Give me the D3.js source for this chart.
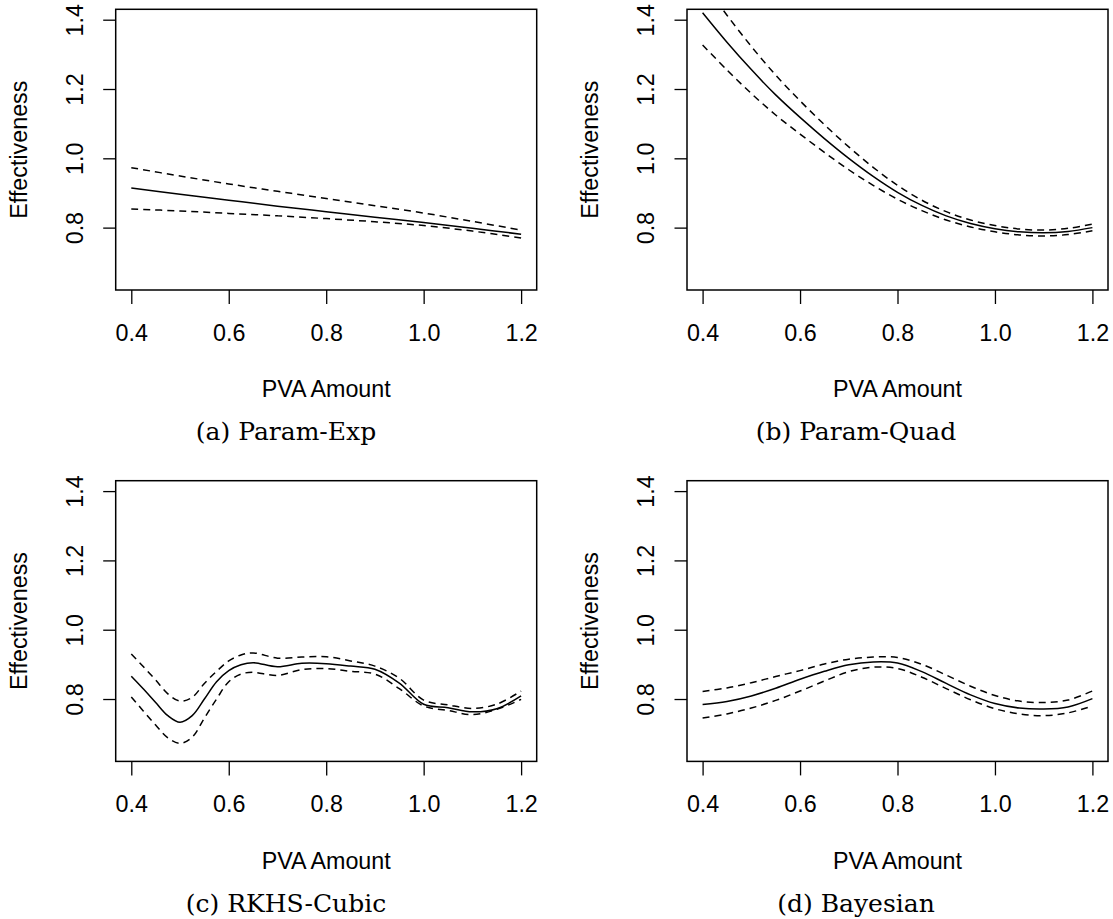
<!DOCTYPE html>
<html>
<head>
<meta charset="utf-8">
<script src="https://cdn.jsdelivr.net/npm/d3@7"></script>
<style>
  body { margin: 0; background: #fff; }
  text { font-family: "Liberation Sans", Arial, sans-serif; fill: #000; }
  .caption { font-family: "DejaVu Serif", "Liberation Serif", serif; }
</style>
</head>
<body>
<script>
// x grids used by the curves
var xCoarse = [0.4, 0.5, 0.6, 0.7, 0.8, 0.9, 1.0, 1.1, 1.2];
var xFine = [0.40, 0.45, 0.50, 0.55, 0.60, 0.65, 0.70, 0.75, 0.80,
             0.85, 0.90, 0.95, 1.00, 1.05, 1.10, 1.15, 1.20];
// denser near the dip of the RKHS fit
var xRkhs = [0.400, 0.425, 0.450, 0.475, 0.500, 0.525, 0.550, 0.575, 0.600, 0.625,
             0.65, 0.70, 0.75, 0.80, 0.85, 0.90, 0.95, 1.00, 1.05, 1.10, 1.15, 1.20];

// (a) Param-Exp
var expFit   = [0.914, 0.896, 0.879, 0.862, 0.846, 0.830, 0.815, 0.798, 0.781];
var expUpper = [0.973, 0.949, 0.926, 0.905, 0.884, 0.863, 0.842, 0.818, 0.793];
var expLower = [0.854, 0.848, 0.841, 0.834, 0.826, 0.817, 0.806, 0.790, 0.770];

// (b) Param-Quad
var quadFit   = [1.420, 1.335, 1.256, 1.183, 1.118, 1.057, 1.000, 0.948, 0.902,
                 0.864, 0.834, 0.812, 0.797, 0.788, 0.785, 0.789, 0.800];
var quadUpper = [1.510, 1.413, 1.323, 1.240, 1.166, 1.097, 1.033, 0.974, 0.922,
                 0.879, 0.846, 0.822, 0.806, 0.796, 0.793, 0.798, 0.810];
var quadLower = [1.327, 1.255, 1.187, 1.125, 1.070, 1.017, 0.967, 0.922, 0.882,
                 0.849, 0.822, 0.802, 0.788, 0.779, 0.776, 0.780, 0.791];

// (c) RKHS-Cubic
var rkhsFit   = [0.866, 0.829, 0.790, 0.752, 0.733, 0.752, 0.800, 0.850, 0.882, 0.899,
                 0.905, 0.893, 0.903, 0.902, 0.895, 0.886, 0.846, 0.785, 0.775, 0.763, 0.772, 0.809];
var rkhsUpper = [0.930, 0.893, 0.855, 0.815, 0.794, 0.805, 0.845, 0.880, 0.910, 0.927,
                 0.933, 0.918, 0.921, 0.922, 0.910, 0.895, 0.860, 0.797, 0.783, 0.773, 0.785, 0.823];
var rkhsLower = [0.806, 0.765, 0.725, 0.688, 0.672, 0.690, 0.745, 0.800, 0.850, 0.872,
                 0.877, 0.868, 0.885, 0.888, 0.880, 0.872, 0.830, 0.780, 0.767, 0.755, 0.770, 0.799];

// (d) Bayesian
var bayesFit   = [0.784, 0.793, 0.809, 0.831, 0.857, 0.880, 0.899, 0.907, 0.904,
                  0.879, 0.845, 0.812, 0.787, 0.774, 0.771, 0.777, 0.801];
var bayesUpper = [0.822, 0.832, 0.847, 0.865, 0.882, 0.901, 0.915, 0.921, 0.920,
                  0.900, 0.869, 0.837, 0.810, 0.794, 0.790, 0.797, 0.823];
var bayesLower = [0.745, 0.757, 0.774, 0.796, 0.823, 0.852, 0.879, 0.892, 0.888,
                  0.863, 0.830, 0.798, 0.772, 0.757, 0.752, 0.760, 0.780];

var xTicks = [0.4, 0.6, 0.8, 1.0, 1.2];
var yTicks = [0.8, 1.0, 1.2, 1.4];
var xLim = [0.4, 1.2];
var yLim = [0.65, 1.4];
var captions = ["(a) Param-Exp", "(b) Param-Quad", "(c) RKHS-Cubic", "(d) Bayesian"];
var xLabel = "PVA Amount";
var yLabel = "Effectiveness";

//page size and panel geometry
var W = 1113, H = 919;
var boxW = 421, boxH = 280.7;
var panelLeft = [115.7, 687];
var panelTop = [9.3, 480.7];
var captionX = [286, 856];
var captionY = [440, 912];
var fontSize = "23.3px";

var panels = [
  { x: xCoarse, fit: expFit, up: expUpper, lo: expLower },
  { x: xFine, fit: quadFit, up: quadUpper, lo: quadLower },
  { x: xRkhs, fit: rkhsFit, up: rkhsUpper, lo: rkhsLower },
  { x: xFine, fit: bayesFit, up: bayesUpper, lo: bayesLower }
];

var svg = d3.select("body")
            .append("svg")
            .attr("width", W)
            .attr("height", H);

//R style 4% axis expansion
function expand(lim) {
  var d = (lim[1] - lim[0]) * 0.04;
  return [lim[0] - d, lim[1] + d];
}

var xScale = d3.scaleLinear().domain(expand(xLim)).range([0, boxW]);
var yScale = d3.scaleLinear().domain(expand(yLim)).range([boxH, 0]);

panels.forEach(function(p, i) {
  var col = i % 2, row = Math.floor(i / 2);
  var g = svg.append("g")
      .attr("transform", "translate(" + panelLeft[col] + "," + panelTop[row] + ")");

  g.append("clipPath")
      .attr("id", "clip" + i)
    .append("rect")
      .attr("width", boxW)
      .attr("height", boxH);

  //x axis
  var xa = g.append("g")
      .attr("transform", "translate(0," + boxH + ")")
      .call(d3.axisBottom(xScale).tickValues(xTicks)
            .tickFormat(d3.format(".1f")).tickSize(14).tickSizeOuter(0).tickPadding(20));
  xa.select(".domain").remove();
  xa.selectAll("line").attr("stroke", "#000").attr("stroke-width", 1.3);
  xa.selectAll("text").attr("font-size", fontSize)
      .attr("font-family", "Liberation Sans, Arial, sans-serif");

  //y axis, labels rotated like R
  var ya = g.append("g")
      .call(d3.axisLeft(yScale).tickValues(yTicks)
            .tickFormat(d3.format(".1f")).tickSize(12.5).tickSizeOuter(0));
  ya.select(".domain").remove();
  ya.selectAll("line").attr("stroke", "#000").attr("stroke-width", 1.3);
  ya.selectAll("text")
      .attr("x", 0).attr("y", -32.8).attr("dy", null)
      .attr("text-anchor", "middle")
      .attr("transform", "rotate(-90)")
      .attr("font-size", fontSize)
      .attr("font-family", "Liberation Sans, Arial, sans-serif");

  //box
  g.append("rect")
      .attr("width", boxW)
      .attr("height", boxH)
      .attr("fill", "none")
      .attr("stroke", "#000")
      .attr("stroke-width", 1.5);

  //axis titles
  g.append("text")
      .attr("x", boxW / 2)
      .attr("y", boxH + 107.5)
      .attr("text-anchor", "middle")
      .attr("font-size", fontSize)
      .text(xLabel);

  g.append("text")
      .attr("transform", "translate(-89," + (boxH / 2) + ") rotate(-90)")
      .attr("text-anchor", "middle")
      .attr("font-size", fontSize)
      .text(yLabel);

  //curves
  var line = d3.line()
      .x(function(d) { return xScale(d[0]); })
      .y(function(d) { return yScale(d[1]); })
      .curve(d3.curveCatmullRom.alpha(0.5));

  var lines = g.append("g").attr("clip-path", "url(#clip" + i + ")");
  [[p.up, "7,5"], [p.lo, "7,5"], [p.fit, null]].forEach(function(s) {
    lines.append("path")
        .datum(p.x.map(function(x, j) { return [x, s[0][j]]; }))
        .attr("fill", "none")
        .attr("stroke", "#000")
        .attr("stroke-width", 1.5)
        .attr("stroke-dasharray", s[1])
        .attr("d", line);
  });

  //sub-figure caption
  svg.append("text")
      .attr("class", "caption")
      .attr("x", captionX[col])
      .attr("y", captionY[row])
      .attr("text-anchor", "middle")
      .attr("font-size", "25px")
      .text(captions[i]);
});
</script>
</body>
</html>
